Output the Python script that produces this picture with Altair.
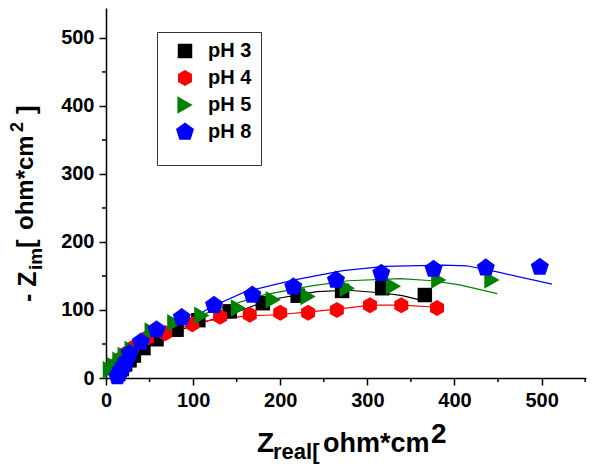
import altair as alt
import pandas as pd

FONT = "Liberation Sans"

series = ["pH 3", "pH 4", "pH 5", "pH 8"]
colors = ["#000000", "#ff0000", "#008000", "#0000ff"]
hexagon = "M0,-1L0.866,-0.5L0.866,0.5L0,1L-0.866,0.5L-0.866,-0.5Z"
pentagon = "M0,-1L0.951,-0.309L0.588,0.809L-0.588,0.809L-0.951,-0.309Z"
shapes = ["square", hexagon, "triangle-right", pentagon]
sizes = [210, 360, 300, 380]

# measured points
ph3_x = [14, 18, 22, 27, 32, 43, 58, 81, 106, 142, 180, 220, 271, 317, 366]
ph3_y = [6, 13, 20, 26, 33, 44, 57, 71, 85, 98, 110, 121, 128, 132, 122]
ph4_x = [10, 14, 19, 24, 30, 47, 68, 99, 131, 165, 200, 232, 265, 303, 339, 380]
ph4_y = [15, 22, 30, 37, 44, 59, 66, 79, 90, 93, 96, 96, 100, 107, 107, 103]
ph5_x = [5, 10, 16, 22, 30, 53, 79, 110, 152, 192, 232, 277, 330, 382, 443]
ph5_y = [12, 18, 26, 33, 42, 69, 81, 92, 103, 115, 120, 132, 135, 144, 144]
ph8_x = [13, 15, 17, 20, 23, 27, 40, 58, 87, 124, 168, 215, 264, 316, 376, 436, 498]
ph8_y = [2, 6, 11, 17, 24, 36, 53, 71, 89, 107, 122, 134, 144, 154, 160, 162, 163]

# fitted curves
fit3_x = [0, 30, 60, 100, 142, 188, 242, 278, 318, 340, 366]
fit3_y = [8, 35, 57, 78, 93, 115, 127, 129, 125, 121, 113]
fit4_x = [0, 20, 45, 75, 100, 120, 160, 196, 240, 278, 303, 340, 380]
fit4_y = [12, 35, 55, 70, 79, 85, 91, 93, 98, 103, 107, 107, 104]
fit5_x = [0, 30, 60, 90, 120, 177, 234, 278, 338, 375, 406, 449]
fit5_y = [12, 38, 60, 80, 98, 121, 135, 143, 146, 143, 137, 124]
fit8_x = [0, 30, 60, 90, 120, 160, 215, 272, 320, 387, 414, 449, 512]
fit8_y = [10, 38, 58, 80, 104, 127, 144, 158, 164, 166, 165, 156, 138]

x_ticks = [0, 100, 200, 300, 400, 500]
x_minor = [50, 150, 250, 350, 450, 550]
y_ticks = [0, 100, 200, 300, 400, 500]
y_minor = [50, 150, 250, 350, 450]

pts = []
for s, xs, ys in zip(series, [ph3_x, ph4_x, ph5_x, ph8_x], [ph3_y, ph4_y, ph5_y, ph8_y]):
    for a, b in zip(xs, ys):
        pts.append({"x": a, "y": b, "s": s})
pts = pd.DataFrame(pts)

fits = []
for s, xs, ys in zip(series, [fit3_x, fit4_x, fit5_x, fit8_x], [fit3_y, fit4_y, fit5_y, fit8_y]):
    for a, b in zip(xs, ys):
        fits.append({"x": a, "y": b, "s": s})
fits = pd.DataFrame(fits)

W, H = 480, 370
xscale = alt.Scale(domain=[0, 551], nice=False, zero=False)
yscale = alt.Scale(domain=[0, 544], nice=False, zero=False)
xaxis = alt.Axis(values=x_ticks, title=None, grid=False, format="d")
yaxis = alt.Axis(values=y_ticks, title=None, grid=False, format="d")
cscale = alt.Scale(domain=series, range=colors)
sscale = alt.Scale(domain=series, range=shapes)
zscale = alt.Scale(domain=series, range=sizes)

leg = alt.Legend(
    orient="none", legendX=51, legendY=24, title=" ", titleOrient="bottom",
    titleFontSize=8, titlePadding=6, strokeColor="#333333", padding=9,
    symbolOffset=9, labelOffset=13, rowPadding=7, labelFont=FONT,
    labelFontSize=20, labelFontWeight="bold", labelColor="black",
    symbolSize=190, symbolStrokeWidth=0,
)

line_layers = []
for s, c in zip(series, colors):
    line_layers.append(
        alt.Chart(fits).transform_filter(alt.datum.s == s).mark_line(strokeWidth=1.2, color=c).encode(
            x=alt.X("x:Q", scale=xscale, axis=xaxis),
            y=alt.Y("y:Q", scale=yscale, axis=yaxis),
        )
    )

points = alt.Chart(pts).mark_point(filled=True, opacity=1).encode(
    x=alt.X("x:Q", scale=xscale, axis=xaxis),
    y=alt.Y("y:Q", scale=yscale, axis=yaxis),
    color=alt.Color("s:N", scale=cscale, legend=leg),
    shape=alt.Shape("s:N", scale=sscale, legend=leg),
    size=alt.Size("s:N", scale=zscale, legend=None),
)

xm = alt.Chart(pd.DataFrame({"x": x_minor})).mark_rule(color="black", strokeWidth=1.5).encode(
    x=alt.X("x:Q", scale=xscale, axis=xaxis),
    y=alt.value(H), y2=alt.value(H + 4),
)
ym = alt.Chart(pd.DataFrame({"y": y_minor})).mark_rule(color="black", strokeWidth=1.5).encode(
    y=alt.Y("y:Q", scale=yscale, axis=yaxis),
    x=alt.value(0), x2=alt.value(-4),
)

one = alt.Data(values=[{"a": 1}])


def label(text, x, y, size, angle=0):
    return alt.Chart(one).mark_text(
        text=text, fontSize=size, font=FONT, fontWeight="bold", align="left",
        baseline="alphabetic", angle=angle, color="black",
    ).encode(x=alt.value(x), y=alt.value(y))


titles = [
    label("Z", 151, 444, 28),
    label("real[", 167, 451, 22),
    label("ohm*cm", 217, 444, 27),
    label("2", 325, 435, 28),
    label("- Z", -70, 294, 25, 270),
    label("im", -64, 262, 19, 270),
    label("[", -71, 240, 26, 270),
    label("ohm*cm", -73, 222, 24, 270),
    label("2", -83, 124, 18, 270),
    label("]", -71, 106, 26, 270),
]

chart = alt.layer(*line_layers, points, xm, ym, *titles).properties(
    width=W, height=H,
    autosize=alt.AutoSizeParams(type="none"),
    padding={"left": 98, "top": 0, "right": 5, "bottom": 86},
).configure_view(stroke=None).configure_axis(
    domainColor="black", domainWidth=1.5, tickColor="black", tickWidth=1.5,
    tickSize=7, labelFont=FONT, labelFontWeight="bold", labelFontSize=20,
    labelColor="black", labelPadding=5, labelFlush=False,
)

chart.save("out.html", embed_options={"renderer": "svg", "actions": False})
